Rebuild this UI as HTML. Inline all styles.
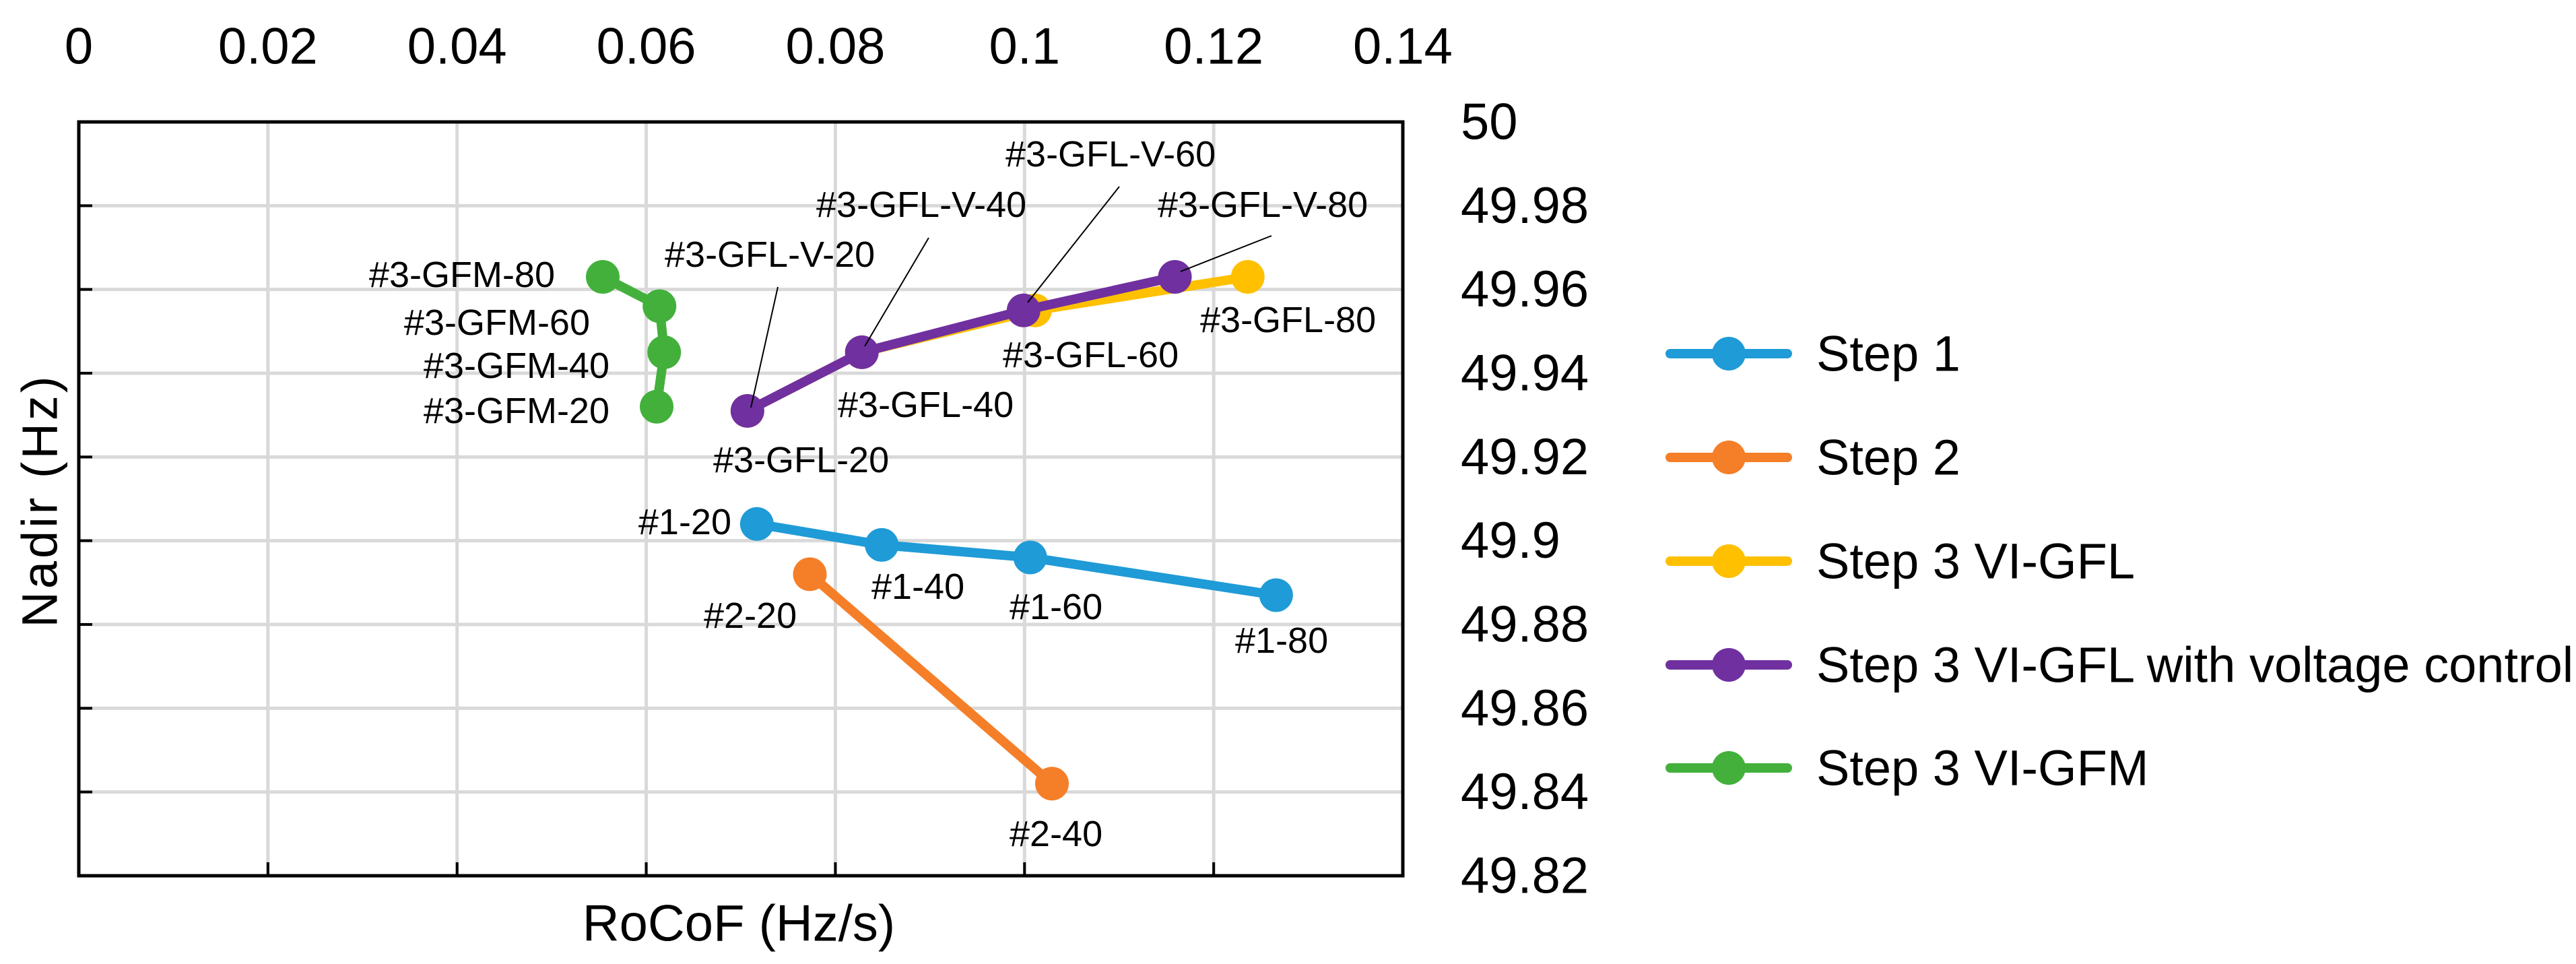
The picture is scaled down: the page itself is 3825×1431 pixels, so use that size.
<!DOCTYPE html>
<html><head><meta charset="utf-8"><style>
html,body{margin:0;padding:0;background:#fff;width:3825px;height:1431px;overflow:hidden}
svg{display:block;font-family:"Liberation Sans",sans-serif}
</style></head><body>
<svg id="chart" width="3825" height="1431" viewBox="0 0 3825 1431" xmlns="http://www.w3.org/2000/svg"></svg>
<script>
const xTicks=[0,0.02,0.04,0.06,0.08,0.1,0.12,0.14];
const xTickLabels=["0","0.02","0.04","0.06","0.08","0.1","0.12","0.14"];
const yTicks=[50,49.98,49.96,49.94,49.92,49.9,49.88,49.86,49.84,49.82];
const yTickLabels=["50","49.98","49.96","49.94","49.92","49.9","49.88","49.86","49.84","49.82"];
const seriesNames=["Step 1","Step 2","Step 3 VI-GFL","Step 3 VI-GFL with voltage control","Step 3 VI-GFM"];
const seriesColors=["#1f9bd7","#f57f29","#ffc000","#7030a0","#43b03c"];
const step1X=[0.0717,0.0849,0.1006,0.1266];
const step1Y=[49.904,49.899,49.896,49.887];
const step2X=[0.0773,0.1029];
const step2Y=[49.892,49.842];
const gflX=[0.0707,0.0828,0.1011,0.1236];
const gflY=[49.931,49.945,49.955,49.963];
const gflvX=[0.0707,0.0828,0.0999,0.1159];
const gflvY=[49.931,49.945,49.955,49.963];
const gfmX=[0.0554,0.0614,0.0619,0.0611];
const gfmY=[49.963,49.956,49.945,49.932];

const L=117,R=2083,T=181,B=1300;
const X=v=>L+(v-0)/(0.14)*(R-L);
const Y=v=>T+(50-v)/(0.18)*(B-T);
const svg=document.getElementById('chart');
const NS="http://www.w3.org/2000/svg";
function mk(tag,attrs,parent){const e=document.createElementNS(NS,tag);for(const k in attrs)e.setAttribute(k,attrs[k]);(parent||svg).appendChild(e);return e;}

// gridlines
const grid=mk('g',{});


xTicks.forEach(v=>{if(v>0&&v<0.14){mk('line',{x1:X(v),x2:X(v),y1:T,y2:B,stroke:'#d9d9d9','stroke-width':5},grid);mk('line',{x1:X(v),x2:X(v),y1:B-20,y2:B,stroke:'#000','stroke-width':4},grid);}});
yTicks.forEach(v=>{if(v<50&&v>49.82){mk('line',{x1:L,x2:R,y1:Y(v),y2:Y(v),stroke:'#d9d9d9','stroke-width':5},grid);mk('line',{x1:L,x2:L+20,y1:Y(v),y2:Y(v),stroke:'#000','stroke-width':4},grid);}});
const frame=mk('rect',{x:L,y:T,width:R-L,height:B-T,fill:'none',stroke:'#000','stroke-width':5});



// x tick labels (top)
xTicks.forEach((v,i)=>{const t=mk('text',{x:X(v),y:69,'font-size':76,'text-anchor':'middle','dominant-baseline':'central',fill:'#000'});t.textContent=xTickLabels[i];

});
// y tick labels (right)
yTicks.forEach((v,i)=>{const t=mk('text',{x:2169,y:Y(v),'font-size':76,'text-anchor':'start','dominant-baseline':'central',fill:'#000'});t.textContent=yTickLabels[i];

});

// axis titles
const xt=mk('text',{x:1097,y:1371,'font-size':76,'text-anchor':'middle','dominant-baseline':'central'});xt.textContent="RoCoF (Hz/s)";


const yt=mk('text',{x:0,y:0,'font-size':74,'text-anchor':'middle','dominant-baseline':'central','letter-spacing':4,transform:'translate(59,743) rotate(-90)'});yt.textContent="Nadir (Hz)";



// series
const allX=[step1X,step2X,gflX,gflvX,gfmX];
const allY=[step1Y,step2Y,gflY,gflvY,gfmY];
const drawOrder=[0,1,2,3,4];
drawOrder.forEach(si=>{
  const g=mk('g',{});
  
  
  const pts=allX[si].map((x,i)=>X(x)+','+Y(allY[si][i])).join(' ');
  mk('polyline',{points:pts,fill:'none',stroke:seriesColors[si],'stroke-width':14,'stroke-linejoin':'round'},g);
  allX[si].forEach((x,i)=>{const c=mk('circle',{cx:X(x),cy:Y(allY[si][i]),r:25,fill:seriesColors[si]},g);
    
    });
});

// leader lines
const leaders=[[1155,426,1115,605],[1379,353,1284,514],[1662,277,1526,449],[1888,350,1753,403]];
leaders.forEach(l=>{const e=mk('line',{x1:l[0],y1:l[1],x2:l[2],y2:l[3],stroke:'#000','stroke-width':2});

});

// data labels [text,x,y,anchor]
const labels=[
["#3-GFM-80",824,408,"end"],["#3-GFM-60",876,479,"end"],["#3-GFM-40",905,543,"end"],["#3-GFM-20",905,610,"end"],
["#3-GFL-V-20",987,378,"start"],["#3-GFL-V-40",1212,304,"start"],["#3-GFL-V-60",1493,229,"start"],["#3-GFL-V-80",1719,304,"start"],
["#3-GFL-80",1782,475,"start"],["#3-GFL-60",1489,527,"start"],["#3-GFL-40",1244,601,"start"],["#3-GFL-20",1059,683,"start"],
["#1-20",1086,775,"end"],["#1-40",1294,871,"start"],["#1-60",1499,901,"start"],["#1-80",1834,951,"start"],
["#2-20",1045,914,"start"],["#2-40",1499,1238,"start"]];
labels.forEach(l=>{const t=mk('text',{x:l[1],y:l[2],'font-size':54,'text-anchor':l[3],'dominant-baseline':'central'});t.textContent=l[0];

});

// legend
const legY=[525,679,833,987,1140];
seriesNames.forEach((n,i)=>{
  const g=mk('g',{});
  
  
  mk('line',{x1:2480,x2:2654,y1:legY[i],y2:legY[i],stroke:seriesColors[i],'stroke-width':14,'stroke-linecap':'round'},g);
  mk('circle',{cx:2567,cy:legY[i],r:25,fill:seriesColors[i]},g);
  const t=mk('text',{x:2697,y:legY[i],'font-size':74,'dominant-baseline':'central'},g);t.textContent=n;
});
</script>
</body></html>
